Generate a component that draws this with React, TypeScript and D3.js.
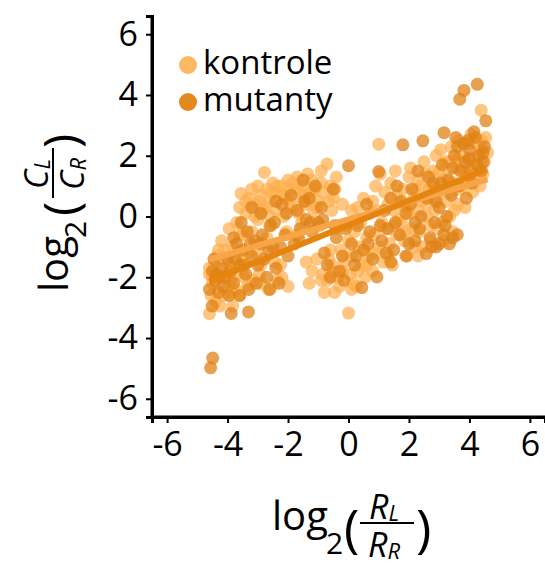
import { useRef, useEffect } from 'react';
import * as d3 from 'd3';

type Pt = [number, number];

// kontrole: [log2(RL/RR), log2(CL/CR)]
const kontrole: Pt[] = [
  [-4.6, -3.2], [-4.55, -2.6], [-4.5, -2.2], [-4.6, -1.9], [-4.45, -1.6], [-4.35, -1.3], [-4.5, -2.0], [-4.4, -2.8], [-4.3, -1.1], [-4.6, -1.7],
  [-4.2, -0.8], [-4.1, -1.5], [-4.0, -2.3], [-3.9, -2.1], [-4.15, -2.6], [-3.95, -0.4], [-3.85, -1.0], [-4.05, -1.9], [-3.83, -2.95], [-4.25, -2.95], [-3.9, -2.5],
  [-3.7, -0.2], [-3.55, 0.76], [-3.6, 0.3], [-3.5, -0.6], [-3.4, 0.1], [-3.65, -1.2], [-3.45, -2.0], [-3.35, -2.3], [-3.75, -2.4], [-3.5, -1.5], [-3.6, -2.6], [-3.4, 0.5],
  [-3.2, 0.9], [-3.1, 0.4], [-3.0, -0.1], [-2.9, 0.7], [-3.2, -0.5], [-3.05, -1.2], [-2.95, -1.9], [-3.15, -2.1], [-2.85, 0.2], [-2.78, 1.45], [-3.0, 1.0], [-2.9, -2.2],
  [-2.7, 0.9], [-2.6, 0.5], [-2.5, 1.1], [-2.4, 0.2], [-2.55, -0.3], [-2.7, -0.7], [-2.45, -1.5], [-2.35, -2.1], [-2.6, 0.0], [-2.4, 0.8], [-2.65, -2.4],
  [-2.2, 1.0], [-2.1, 0.6], [-2.0, 1.2], [-1.9, 0.3], [-2.15, 0.0], [-2.05, -0.5], [-1.95, 0.9], [-2.25, -1.6], [-2.0, -2.3], [-1.85, 1.1], [-2.2, -2.0],
  [-1.7, 1.3], [-1.6, 0.8], [-1.5, 1.0], [-1.4, 0.4], [-1.65, 0.1], [-1.55, -0.2], [-1.35, 1.4], [-1.7, -0.6], [-1.45, 0.7], [-1.3, -2.2], [-1.4, -1.5],
  [-1.2, 1.2], [-1.1, 0.9], [-1.0, 0.5], [-0.9, 1.1], [-1.15, 0.2], [-0.95, -0.3], [-1.05, -1.4], [-0.85, -1.9], [-0.8, -2.5], [-1.2, -1.8], [-0.9, 1.5],
  [-0.71, 1.73], [-0.6, 1.0], [-0.5, 0.6], [-0.4, 1.3], [-0.55, 0.2], [-0.65, -1.4], [-0.5, -1.8], [-0.46, -2.5], [-0.35, -2.0], [-0.7, -2.1], [-0.4, -0.4],
  [-0.2, 0.4], [-0.1, -0.3], [0.0, -0.8], [0.1, 0.2], [0.0, -3.18], [-0.15, -1.5], [0.05, -1.9], [0.15, -2.2], [-0.25, -1.1], [0.1, -1.3], [0.2, -0.5],
  [0.3, 0.3], [0.4, -0.2], [0.5, 0.6], [0.6, -0.7], [0.35, -1.0], [0.45, -1.6], [0.55, -2.0], [0.65, -1.3], [0.7, 0.1], [0.25, -2.3],
  [0.8, 0.5], [0.9, 1.0], [1.0, 2.38], [1.1, -0.2], [0.85, -0.6], [1.0, -1.0], [1.15, -1.5], [0.95, 0.2], [1.2, 0.8], [0.8, -1.8], [1.05, 1.4],
  [1.3, 0.4], [1.4, 1.1], [1.5, -0.3], [1.6, 0.7], [1.35, -0.9], [1.45, -1.6], [1.55, 1.5], [1.65, -0.1], [1.3, -1.3], [1.5, 0.2],
  [1.8, 0.9], [1.9, 0.3], [2.0, 1.3], [2.1, -0.4], [1.85, -0.8], [1.95, -1.3], [2.15, 0.6], [2.05, 1.6], [1.75, -0.2], [2.2, -1.0],
  [2.3, 1.2], [2.4, 0.5], [2.5, 1.8], [2.6, 0.0], [2.35, -0.5], [2.45, -1.0], [2.65, 0.9], [2.55, 1.4], [2.3, -1.3], [2.7, -0.3],
  [2.8, 1.5], [2.9, 2.0], [3.0, 0.8], [3.1, 1.2], [2.85, 0.2], [2.95, -0.4], [3.15, -0.8], [3.05, 2.2], [2.75, 1.0], [3.2, 0.5],
  [3.3, 1.8], [3.4, 2.3], [3.5, 1.1], [3.6, 0.4], [3.35, 0.0], [3.45, -0.5], [3.55, 1.6], [3.65, 2.5], [3.25, 1.3], [3.7, 0.9],
  [3.8, 2.0], [3.9, 1.4], [4.0, 2.4], [4.1, 0.8], [3.85, 0.3], [3.95, 1.8], [4.15, 1.2], [4.05, 2.7], [3.75, 1.0],
  [4.3, 1.6], [4.4, 2.2], [4.5, 1.8], [4.39, 3.5], [4.54, 2.6], [4.35, 1.0], [4.6, 2.1], [4.25, 2.4], [4.45, 1.4],
  [-3.3, 0.6], [-3.1, 0.0], [-2.95, 0.5], [-2.75, 0.3], [-2.55, 0.8], [-2.35, 1.0], [-2.15, 0.7], [-1.95, 0.5], [-1.75, 0.9], [-1.55, 0.5],
  [-1.25, 0.8], [-1.05, 0.3], [-0.85, 0.8], [-0.65, 0.5], [-0.45, 0.9], [-3.9, -1.6], [-4.1, -1.1], [-3.7, -1.9], [-3.3, -1.2], [-2.9, -1.6],
  [-4.3, -2.0], [-3.6, -0.6], [1.6, -0.6], [1.8, 0.4], [2.0, 0.1], [2.2, 0.9], [2.4, 1.0], [2.6, 0.4], [2.8, 0.6], [3.0, 1.5],
  [3.2, 1.8], [3.4, 0.8], [3.6, 1.9], [3.8, 1.5], [4.0, 1.1], [4.2, 1.9], [4.4, 2.5], [3.5, 0.2], [3.1, -0.2], [2.7, -0.8],
  [2.3, 0.2], [1.9, -0.5], [1.2, -0.4], [0.9, -1.2], [0.6, -1.6], [-0.2, -1.8], [-0.6, -1.1], [-0.9, -2.1], [-0.3, -2.3], [0.3, -1.8],
  [0.1, -2.4], [-0.55, -1.6],
];

const mutanty: Pt[] = [
  [-4.49, -4.66], [-4.56, -4.98], [-4.51, -2.95], [-4.6, -2.4], [-4.5, -1.8], [-4.4, -2.1], [-4.45, -1.4], [-4.3, -2.5], [-4.2, -1.7], [-4.1, -2.0],
  [-3.88, -3.19], [-3.31, -3.14], [-4.0, -1.4], [-3.9, -1.8], [-3.8, -2.2], [-3.7, -0.9], [-3.6, -1.6], [-3.5, -1.1], [-3.4, -1.9], [-3.3, -2.4],
  [-3.2, -1.3], [-3.1, -0.8], [-3.0, -1.6], [-3.55, -0.2], [-3.35, -0.5], [-3.2, 0.3], [-2.9, -0.9], [-2.8, -1.4], [-2.7, -2.0], [-2.6, -0.3],
  [-2.5, -1.0], [-2.4, -1.7], [-2.3, -2.2], [-2.2, 0.4], [-2.1, -0.6], [-2.0, -1.3], [-1.9, 0.7], [-1.8, -0.9], [-1.7, 0.2], [-1.6, -0.4],
  [-1.5, 1.2], [-1.4, -0.1], [-1.3, 0.6], [-1.2, -0.5], [-1.1, 1.0], [-1.0, -0.2], [-0.9, 0.3], [-0.8, -1.2], [-0.7, -1.6], [-0.6, -2.0],
  [-0.5, 0.9], [-0.4, -0.7], [-0.3, -1.8], [-0.2, -1.3], [-0.1, -0.4], [0.0, 1.67], [0.1, -0.9], [0.2, -1.6], [0.3, -0.3], [0.44, -2.34],
  [0.5, -1.1], [0.6, 0.4], [0.7, -0.5], [0.8, -1.4], [0.94, -1.99], [1.0, 1.48], [1.1, -0.8], [1.2, 0.2], [1.3, -0.4], [1.4, 0.6],
  [1.5, -1.1], [1.6, 1.0], [1.7, -0.6], [1.8, 2.36], [1.9, 0.1], [2.0, -0.9], [2.1, 0.9], [2.2, -0.2], [2.3, 1.5], [2.46, 2.49],
  [2.57, -1.22], [2.6, 0.6], [2.7, -0.7], [2.8, 1.1], [2.9, -1.0], [3.0, 0.3], [3.1, 1.7], [3.16, 2.76], [3.2, -0.3], [3.34, -0.9],
  [3.4, 0.7], [3.5, 2.0], [3.6, -0.6], [3.68, 3.86], [3.7, 1.5], [3.82, 4.15], [3.8, 2.4], [3.9, 0.6], [4.0, 1.9], [4.15, 2.79],
  [4.1, 1.1], [4.26, 4.35], [4.3, 2.0], [4.4, 1.5], [4.5, 2.3], [4.54, 3.15], [4.45, 1.8], [4.2, 2.6], [4.0, 2.2], [3.6, 2.3],
  [3.3, 1.2], [2.9, 0.5], [2.4, 0.0], [1.9, -1.3], [1.4, -1.5], [2.2, -0.8], [3.0, -0.9], [-3.8, -0.7], [-2.9, 0.1], [-2.4, 0.5],
  [-2.6, -2.4], [-3.6, -2.6], [-4.35, -1.9], [-4.15, -2.3], [-3.95, -2.6], [-3.75, -1.4], [-3.45, -1.6], [-3.25, -0.9], [-3.05, -2.2], [-2.85, -0.6],
  [-2.65, -1.1], [-2.45, -0.2], [-2.25, -1.0], [-2.05, 0.1], [-1.65, -0.7], [-1.45, 0.5], [-1.25, -0.2], [-0.85, -0.1], [-0.45, -0.3], [-0.15, -2.1],
  [0.25, -1.3], [0.65, -0.9], [1.05, -0.3], [1.25, -1.2], [1.55, -0.2], [1.75, 0.5], [2.05, 0.4], [2.35, -0.4], [2.65, 1.3], [2.85, -0.2],
  [3.05, 1.1], [3.25, 0.0], [3.45, 1.6], [3.65, 1.0], [3.85, 1.8], [4.05, 1.5], [4.25, 1.7], [4.45, 2.1], [3.95, 2.5], [3.55, 2.6],
  [2.75, -1.0], [3.15, -0.6], [3.45, -0.7],
];

const ticks = [-6, -4, -2, 0, 2, 4, 6];
const seriesNames = ['kontrole', 'mutanty'];
const pointColors = ['#fdae4b', '#df8215'];
const legendColors = ['#fdb863', '#e38a1e'];
const lineColors = ['#f7a546', '#e5840f'];

const font = "'Open Sans', sans-serif";

function fit(pts: Pt[]) {
  const mx = d3.mean(pts, (d) => d[0])!;
  const my = d3.mean(pts, (d) => d[1])!;
  const sxy = d3.sum(pts, (d) => (d[0] - mx) * (d[1] - my));
  const sxx = d3.sum(pts, (d) => (d[0] - mx) ** 2);
  const b = sxy / sxx;
  const [x0, x1] = d3.extent(pts, (d) => d[0]) as [number, number];
  return [
    [x0, my + b * (x0 - mx)],
    [x1, my + b * (x1 - mx)],
  ] as Pt[];
}

export default function App() {
  const gx = useRef<SVGGElement>(null),
    gy = useRef<SVGGElement>(null);

  const width = 545,
    height = 563,
    left = 152,
    bottom = 417,
    top = 16;

  const x = d3.scaleLinear().domain([-6.5, 6.5]).range([left, width]);
  const y = d3.scaleLinear().domain([-6.6, 6.6]).range([bottom, top]);

  const series = [kontrole, mutanty];
  const fits = series.map(fit);

  useEffect(() => {
    const ax = d3.select(gx.current!);
    ax.call(d3.axisBottom(x).tickValues(ticks).tickSizeOuter(0).tickSize(6).tickPadding(9).tickFormat(d3.format('d')));
    const ay = d3.select(gy.current!);
    ay.call(d3.axisLeft(y).tickValues(ticks).tickSizeOuter(0).tickSize(6).tickPadding(8).tickFormat(d3.format('d')));
    [ax, ay].forEach((g) => {
      g.attr('font-family', font).attr('font-size', 34);
      g.select('.domain').attr('stroke', '#000').attr('stroke-width', 3);
      g.selectAll('.tick line').attr('stroke', '#000').attr('stroke-width', 2);
      g.selectAll('.tick text').attr('fill', '#000').text((d: any) => (d < 0 ? '-' + Math.abs(d) : String(d)));
    });
  }, []);

  return (
    <svg width={width} height={height} style={{ display: 'block', position: 'absolute', left: 0, top: 0 }}>
      <rect width={width} height={height} fill="#fff" />
      {series.map((pts, i) => (
        <g key={seriesNames[i]} fill={pointColors[i]} fillOpacity={i === 0 ? 0.7 : 0.75}>
          {pts.map((d, j) => (
            <circle key={j} cx={x(d[0])} cy={y(d[1])} r={6.5} />
          ))}
        </g>
      ))}
      {fits.map((f, i) => (
        <line
          key={i}
          x1={x(f[0][0])}
          y1={y(f[0][1])}
          x2={x(f[1][0])}
          y2={y(f[1][1])}
          stroke={lineColors[i]}
          strokeWidth={6}
        />
      ))}
      <g ref={gx} transform={`translate(0,${bottom})`} />
      <g ref={gy} transform={`translate(${left},0)`} />
      <line x1={left} y1={bottom} x2={left} y2={top} stroke="#000" strokeWidth={3} />
      <line x1={left - 1.5} y1={bottom} x2={width} y2={bottom} stroke="#000" strokeWidth={3} />

      {seriesNames.map((name, i) => (
        <g key={name} transform={`translate(188,${65 + i * 37})`}>
          <circle r={9} fill={legendColors[i]} />
          <text x={15} y={9} fontFamily={font} fontSize={33} fill="#000">
            {name}
          </text>
        </g>
      ))}

      <g fontFamily={font} fill="#000" transform="translate(272,530)">
        <text x={0} y={0} fontSize={40}>log</text>
        <text x={54} y={24} fontSize={30}>2</text>
        <text x={72} y={17} fontSize={52}>(</text>
        <text x={112} y={-11} fontSize={34} fontStyle="italic" textAnchor="middle">
          R<tspan fontSize={22} dy={2}>L</tspan>
        </text>
        <line x1={88} x2={142} y1={-7} y2={-7} stroke="#000" strokeWidth={2} />
        <text x={112} y={27} fontSize={34} fontStyle="italic" textAnchor="middle">
          R<tspan fontSize={22} dy={2}>R</tspan>
        </text>
        <text x={144} y={17} fontSize={52}>)</text>
      </g>

      <g fontFamily={font} fill="#000" transform="translate(68,292) rotate(-90)">
        <text x={0} y={0} fontSize={40}>log</text>
        <text x={54} y={18} fontSize={30}>2</text>
        <text x={76} y={10} fontSize={48}>(</text>
        <text x={118} y={-20} fontSize={33} fontStyle="italic" textAnchor="middle">
          C<tspan fontSize={22} dy={2}>L</tspan>
        </text>
        <line x1={94} x2={144} y1={-15} y2={-15} stroke="#000" strokeWidth={2} />
        <text x={118} y={16} fontSize={33} fontStyle="italic" textAnchor="middle">
          C<tspan fontSize={22} dy={2}>R</tspan>
        </text>
        <text x={144} y={10} fontSize={48}>)</text>
      </g>
    </svg>
  );
}
